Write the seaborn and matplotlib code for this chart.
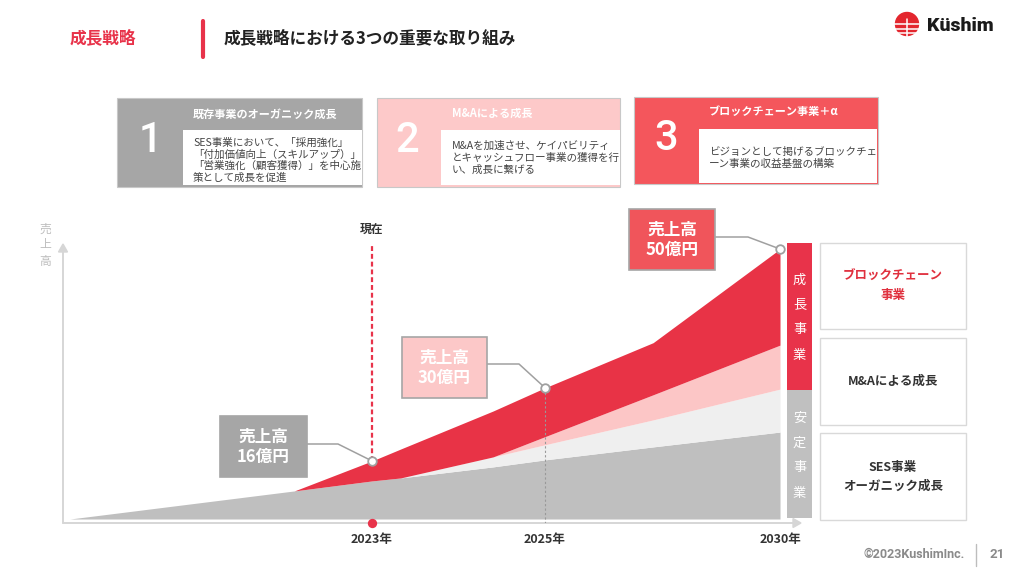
import numpy as np
import pandas as pd
import seaborn as sns
import matplotlib
matplotlib.use("Agg")
import matplotlib.pyplot as plt
from matplotlib.patches import Rectangle, Circle, Polygon

# ---------------- data ----------------
years = [2019.5, 2022.1, 2023.0, 2023.33, 2024.4, 2025.0, 2027.3, 2030.0]
ses_base = [0, 10.4, 14.1, 15.2, 19.3, 21.9, 26.7, 32.2]
organic = [0, 0, 0, 0, 3.7, 5.6, 10.0, 15.9]
mna = [0, 0, 0, 0, 0, 3.0, 9.3, 16.3]
blockchain = [0, 0, 7.4, 10.7, 17.0, 18.1, 19.3, 35.6]
milestone_years = [2023, 2025, 2030]
milestone_labels = ["2023年", "2025年", "2030年"]
revenue_oku = [16, 30, 50]
now_label = "現在"
right_labels = ["ブロックチェーン\n事業", "M&Aによる成長", "SES事業\nオーガニック成長"]
side_groups = ["成長事業", "安定事業"]
card_numbers = ["1", "2", "3"]
card_titles = ["既存事業のオーガニック成長", "M&Aによる成長", "ブロックチェーン事業＋α"]
card_bodies = [
    ["SES事業において、「採用強化」", "「付加価値向上（スキルアップ）」",
     "「営業強化（顧客獲得）」を中心施", "策として成長を促進"],
    ["M&Aを加速させ、ケイパビリティ", "とキャッシュフロー事業の獲得を行", "い、成長に繋げる"],
    ["ビジョンとして掲げるブロックチェ", "ーン事業の収益基盤の構築"],
]

# ---------------- style ----------------
sns.set_theme(style="white")
plt.rcParams['font.family'] = ['Noto Sans CJK JP', 'DejaVu Sans']

RED = "#e8334a"
C_GREY = "#bfbfbf"
C_LGREY = "#efefef"
C_PINK = "#fcc6c6"
C_RED = "#e83346"
DARK = "#333333"

fig = plt.figure(figsize=(10.24, 5.76), dpi=100)
ov = fig.add_axes([0, 0, 1, 1], zorder=0)
ov.set_xlim(0, 1024)
ov.set_ylim(576, 0)
ov.axis("off")

# chart axes
L, R, B, T = 63, 800, 523, 240
ax = fig.add_axes([L / 1024, (576 - B) / 576, (R - L) / 1024, (B - T) / 576], zorder=1)
ax.patch.set_alpha(0)

yr_anchor = np.array([2015, 2019.5, 2023, 2025, 2030, 2035])
px_anchor = np.array([-317, 70, 372, 545, 780, 1015])
fwd = lambda x: np.interp(x, yr_anchor, px_anchor)
inv = lambda p: np.interp(p, px_anchor, yr_anchor)
ax.set_xscale("function", functions=(fwd, inv))
ax.set_xlim(inv(L), inv(R))
PXU = 2.7
ax.set_ylim(-(B - 519) / PXU, (519 - T) / PXU)

df = pd.DataFrame({"year": years, "ses": ses_base, "organic": organic,
                   "mna": mna, "blockchain": blockchain})
df["total"] = df[["ses", "organic", "mna", "blockchain"]].sum(axis=1)

ax.stackplot(df["year"], df["ses"], df["organic"], df["mna"], df["blockchain"],
             colors=[C_GREY, C_LGREY, C_PINK, C_RED], linewidth=0, zorder=2)

for s in ax.spines.values():
    s.set_visible(False)
ax.set_xticks(milestone_years)
ax.set_xticklabels(milestone_labels, fontsize=9, fontweight="bold", color=DARK)
ax.tick_params(axis="x", length=0, pad=7)
ax.set_yticks([])
ax.grid(False)

marks = df[df["year"].isin(milestone_years)].reset_index(drop=True)
ytop = ax.get_ylim()[1]
ybot = ax.get_ylim()[0]

# current line (2023)
t23 = marks.loc[0, "total"]
ax.plot([2023, 2023], [t23, ytop - 2.2], ls=(0, (2.2, 1.3)), color=RED, lw=1.6, zorder=3)
# 2025 guide
t25 = marks.loc[1, "total"]
ax.plot([2025, 2025], [t25, ybot], ls=(0, (2, 2)), color="#999999", lw=0.8, zorder=3)
ax.scatter([2023], [ybot], s=45, color=RED, zorder=7, clip_on=False, linewidths=0)

sns.scatterplot(data=marks, x="year", y="total", s=38, color="white",
                edgecolor="#a0a0a0", linewidth=1.3, zorder=8, ax=ax, clip_on=False,
                legend=False)
ax.set_xlabel("")
ax.set_ylabel("")

ax.text(2023, ytop + 4, now_label, ha="center", va="center", fontsize=8.5,
        fontweight="bold", color=DARK)

def to_px(x, y):
    d = ax.transData.transform((x, y))
    return ov.transData.inverted().transform(d)

# callouts
callouts = [
    dict(box=(220, 416, 87, 61), face="#a6a6a6", edge="#a6a6a6", knee=338, ly=444),
    dict(box=(402, 337, 85, 61), face="#fcc8c8", edge="#a6a6a6", knee=519, ly=364),
    dict(box=(629, 209, 86, 61), face="#f0555b", edge="#a6a6a6", knee=748, ly=237),
]
for i, c in enumerate(callouts):
    x0, y0, w, h = c["box"]
    mx, my = to_px(marks.loc[i, "year"], marks.loc[i, "total"])
    ax.plot([x0 + w, c["knee"], mx], [c["ly"], c["ly"], my], color="#a0a0a0",
            lw=1.1, transform=ov.transData, clip_on=False, zorder=5)
    ax.add_patch(Rectangle((x0, y0), w, h, facecolor=c["face"], edgecolor=c["edge"],
                           lw=1.2, transform=ov.transData, clip_on=False, zorder=6))
    cx, cy = x0 + w / 2, y0 + h / 2
    ax.text(cx, cy - 9.5, "売上高", ha="center", va="center", fontsize=12,
            color="white", fontweight="bold", transform=ov.transData, zorder=7)
    ax.text(cx, cy + 10.5, f"{revenue_oku[i]}億円", ha="center", va="center",
            fontsize=12, color="white", fontweight="bold", transform=ov.transData, zorder=7)

# axes arrows
AX_C = "#d6d6d6"
ov.plot([63, 63], [523, 250], color=AX_C, lw=1.4)
ov.add_patch(Polygon([[58.5, 252], [67.5, 252], [63, 244]], closed=True, color=AX_C))
ov.plot([63, 794], [523, 523], color=AX_C, lw=1.4)
ov.add_patch(Polygon([[793, 518.5], [793, 527.5], [801, 523]], closed=True, color=AX_C))
for i, ch in enumerate("売上高"):
    ov.text(45, 229 + 16 * i, ch, ha="center", va="center", fontsize=8.5, color="#bdbdbd")

# side bar
ov.add_patch(Rectangle((787, 243), 25, 147, facecolor=RED, edgecolor="none"))
ov.add_patch(Rectangle((787, 390), 25, 128, facecolor="#c0c0c0", edgecolor="none"))
for i, ch in enumerate(side_groups[0]):
    ov.text(799.5, 280 + 25 * i, ch, ha="center", va="center", fontsize=9.5, color="white")
for i, ch in enumerate(side_groups[1]):
    ov.text(799.5, 418 + 25 * i, ch, ha="center", va="center", fontsize=9.5, color="white")

# right boxes
rboxes = [(243, 329), (338, 425), (433, 520)]
rcolors = ["#e0303e", DARK, DARK]
for (y0, y1), lab, col in zip(rboxes, right_labels, rcolors):
    ov.add_patch(Rectangle((820, y0), 146, y1 - y0, facecolor="white",
                           edgecolor="#d9d9d9", lw=1))
    lines = lab.split("\n")
    cy = (y0 + y1) / 2
    n = len(lines)
    for k, ln in enumerate(lines):
        ov.text(893, cy + (k - (n - 1) / 2) * 19, ln, ha="center", va="center",
                fontsize=9, fontweight="bold", color=col)

# header
ov.text(70, 38, "成長戦略", ha="left", va="center", fontsize=12, fontweight="bold", color=RED)
ov.plot([203, 203], [21, 57], color=RED, lw=3, solid_capstyle="round")
ov.text(224, 38, "成長戦略における3つの重要な取り組み", ha="left", va="center",
        fontsize=12, fontweight="bold", color="#222222")

# logo
ov.add_patch(Circle((907, 24), 11.5, color="#e3262e"))
for yy in (24, 28.5, 33):
    ov.plot([894, 920], [yy, yy], color="white", lw=1.1)
ov.plot([907, 907], [19, 37], color="white", lw=1.1)
ov.text(927, 26, "Küshim", ha="left", va="center", fontsize=14, fontweight="black",
        color="#1a1a1a", family=["Roboto", "DejaVu Sans"])

# footer
ov.text(965, 555, "©2023KushimInc.", ha="right", va="center", fontsize=9,
        fontweight="bold", color="#8a8a8a", family=["Roboto", "DejaVu Sans"])
ov.plot([976, 976], [544, 566], color="#bdbdbd", lw=1)
ov.text(997, 555, "21", ha="center", va="center", fontsize=9.5, fontweight="bold",
        color="#8a8a8a", family=["Roboto", "DejaVu Sans"])

# top cards
cards = [
    dict(outer=(117, 98, 245, 89), inner=(183, 130, 179, 55), face="#a6a6a6",
         num=(150, 141), tx=193, ty=114, by=[143, 154.5, 166, 177.5]),
    dict(outer=(377, 98, 243, 89), inner=(441, 130, 179, 55), face="#fdc9c9",
         num=(407, 140), tx=452, ty=113, by=[146, 158, 170]),
    dict(outer=(634, 97, 244, 87), inner=(699, 129, 178, 54), face="#f4565c",
         num=(666, 139), tx=709, ty=111, by=[152, 164]),
]
for i, c in enumerate(cards):
    x0, y0, w, h = c["outer"]
    ov.add_patch(Rectangle((x0, y0), w, h, facecolor=c["face"], edgecolor="#c8c8c8", lw=0.8))
    ix, iy, iw, ih = c["inner"]
    ov.add_patch(Rectangle((ix, iy), iw, ih, facecolor="white", edgecolor="none"))
    ov.text(c["num"][0], c["num"][1], card_numbers[i], ha="center", va="center",
            fontsize=30, fontweight="medium", color="white", family=["Roboto", "DejaVu Sans"])
    ov.text(c["tx"], c["ty"], card_titles[i], ha="left", va="center", fontsize=8,
            fontweight="bold", color="white")
    for ln, yy in zip(card_bodies[i], c["by"]):
        ov.text(c["tx"], yy, ln, ha="left", va="center", fontsize=7.6, color="#444444")

fig.savefig("out.png", dpi=100)
